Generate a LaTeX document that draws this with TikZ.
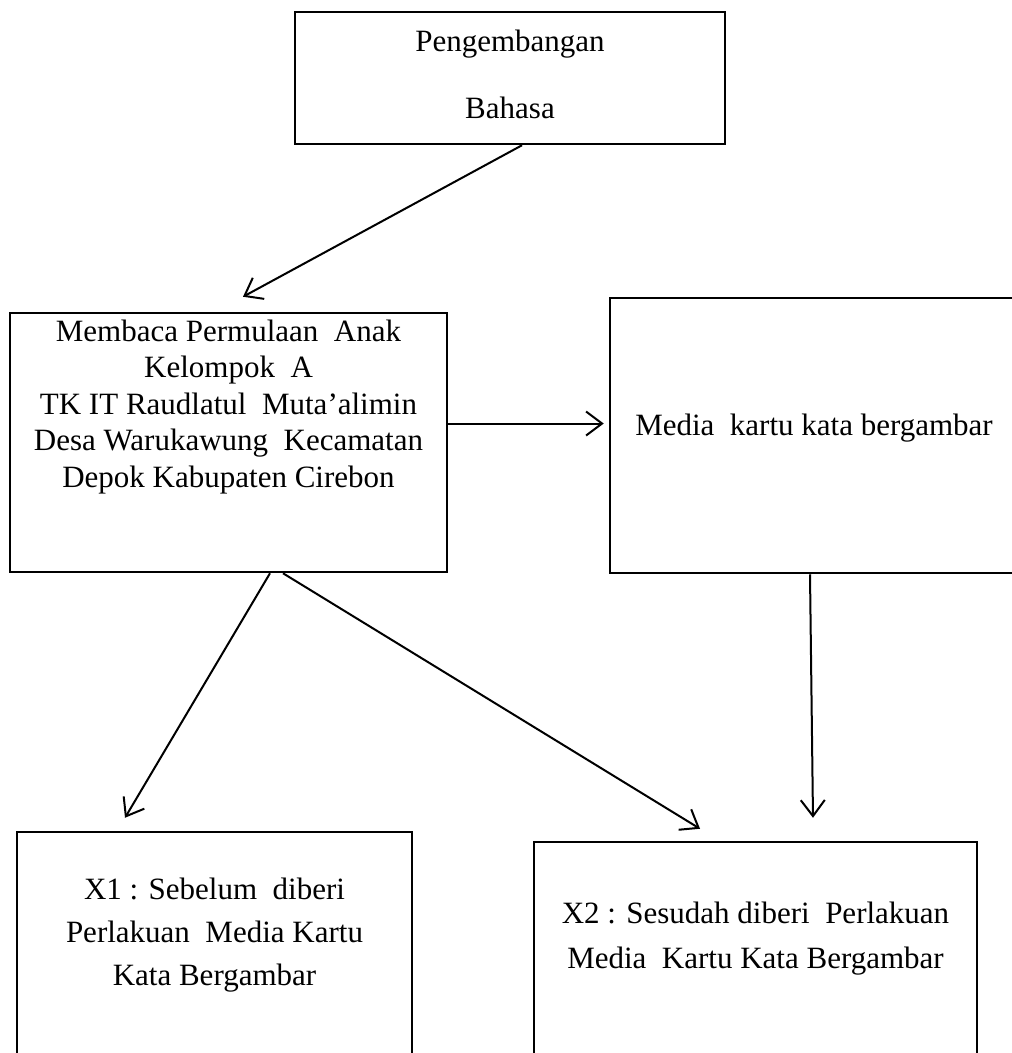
\documentclass[tikz,border=0pt]{standalone}
\usepackage{fontspec}
\setmainfont{Liberation Serif}
\usetikzlibrary{arrows.meta}
\begin{document}
\begin{tikzpicture}[x=1pt,y=-1pt,
    kotak/.style={draw,line width=2.5pt,inner sep=0pt},
    teks/.style={align=center,inner sep=0pt,font=\fontsize{31}{36.5}\selectfont},
    panah/.style={line width=2pt,-{Straight Barb[length=16pt,width=24pt]}}]
  \path[use as bounding box,fill=white] (0,0) rectangle (1012,1053);

  \node [kotak,minimum width=430pt,minimum height=132pt] (bahasa) at (510,78) {};
  \node [kotak,minimum width=437pt,minimum height=259pt] (membaca) at (228.5,442.5) {};
  \node [kotak,minimum width=408pt,minimum height=275pt] (media) at (814,435.5) {};
  \node [kotak,minimum width=395pt,minimum height=260pt] (sebelum) at (214.5,962) {};
  \node [kotak,minimum width=443pt,minimum height=258pt] (sesudah) at (755.5,971) {};

  \node [teks,font=\fontsize{31}{67}\selectfont] (tbahasa) at (510,74) {Pengembangan\\Bahasa};
  \node [teks] (tmembaca) at (228.5,407) {Membaca Permulaan\ \ Anak\\Kelompok\ \ A\\TK IT Raudlatul\ \ Muta’alimin\\Desa Warukawung\ \ Kecamatan\\Depok Kabupaten Cirebon};
  \node [teks] (tmedia) at (814,428) {Media\ \ kartu kata bergambar};
  \node [teks,font=\fontsize{31}{43}\selectfont] (tsebelum) at (214.5,935) {X1 : Sebelum\ \ diberi\\Perlakuan\ \ Media Kartu\\Kata Bergambar};
  \node [teks,font=\fontsize{31}{45}\selectfont] (tsesudah) at (755.5,939) {X2 : Sesudah diberi\ \ Perlakuan\\Media\ \ Kartu Kata Bergambar};

  \draw [panah] ([xshift=12pt]bahasa.south) -- ([xshift=14.5pt,yshift=15pt]membaca.north);
  \draw [panah,shorten >=5pt] ([yshift=19pt]membaca.east) -- ([yshift=19pt]membaca.east -| media.west);
  \draw [panah] ([xshift=41.5pt]membaca.south) -- ([xshift=-89.5pt,yshift=13pt]sebelum.north);
  \draw [panah] ([xshift=54.5pt]membaca.south) -- ([xshift=-55.5pt,yshift=12pt]sesudah.north);
  \draw [panah] ([xshift=-4pt]media.south) -- ([xshift=57.5pt,yshift=23pt]sesudah.north);
\end{tikzpicture}
\end{document}
